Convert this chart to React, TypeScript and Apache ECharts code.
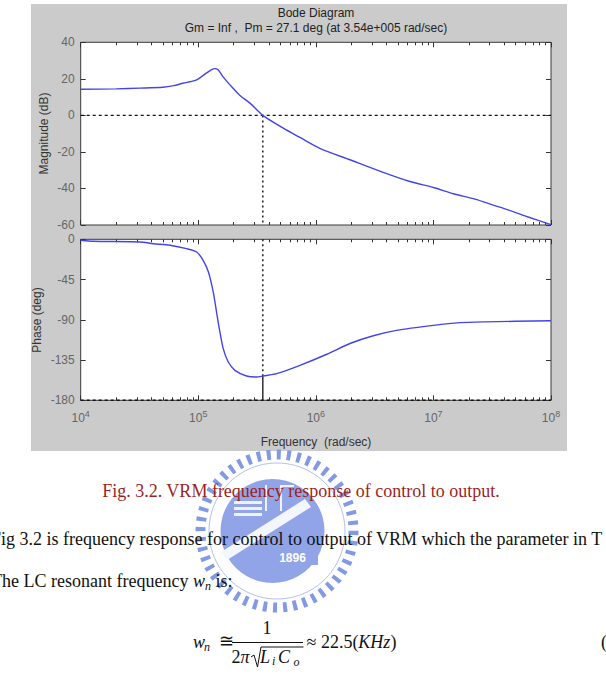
import React, { useEffect, useRef } from 'react';
import * as echarts from 'echarts';

// Bode diagram of the VRM control-to-output transfer function.
const decadeExponents = [4, 5, 6, 7, 8];

// Magnitude response: frequency (rad/s) and gain (dB)
const magFreq = [
  1.0e4, 2.0e4, 3.2e4, 5.0e4, 6.2e4, 7.4e4, 9.3e4, 1.02e5, 1.17e5, 1.29e5, 1.38e5,
  1.48e5, 1.62e5, 1.86e5, 2.24e5, 2.75e5, 3.54e5, 5.28e5, 7.33e5, 1.08e6, 1.95e6,
  3.74e6, 6.3e6, 1.0e7, 1.48e7, 2.19e7, 2.75e7, 4.0e7, 6.3e7, 1.0e8,
];
const magDb = [
  14.3, 14.5, 14.9, 15.4, 16.3, 17.6, 19.0, 20.3, 23.1, 24.9, 25.6,
  24.9, 21.2, 16.7, 11.2, 6.7, 0, -7.0, -12.1, -18.0, -24.3,
  -31.2, -36.2, -39.5, -42.9, -45.6, -47.6, -51.0, -55.5, -59.8,
];

// Phase response: frequency (rad/s) and phase (deg)
const phaseFreq = [
  1.0e4, 1.28e4, 3.19e4, 4.14e4, 5.75e4, 7.94e4, 9.68e4, 1.10e5, 1.22e5, 1.34e5,
  1.43e5, 1.51e5, 1.63e5, 1.80e5, 2.05e5, 2.57e5, 3.14e5, 3.54e5, 4.65e5, 7.33e5,
  1.24e6, 1.95e6, 3.08e6, 4.86e6, 1.0e7, 1.68e7, 2.75e7, 1.0e8,
];
const phaseDeg = [
  -1.1, -2.2, -3.0, -4.9, -6.7, -10.5, -14.2, -23.5, -36.6, -58.9,
  -81.3, -99.9, -122.3, -137.2, -146.5, -152.8, -154.0, -152.9, -150.2, -140.9,
  -128.5, -116.5, -107.8, -101.8, -96.2, -93.2, -92.3, -91.0,
];

// Stability margins reported by margin()
const crossoverFreq = 3.54e5; // rad/s
const phaseMargin = 27.1; // deg

const magRange = { min: -60, max: 40, step: 20 };
const phaseRange = { min: -180, max: 0, step: 45 };

const SANS = '"Liberation Sans", Arial, sans-serif';
const SERIF = '"Liberation Serif", "Times New Roman", serif';
const TICK_GRAY = '#666666';
const AXIS_DARK = '#333333';
const CURVE = '#4444ea';
const LOGO = '#8299e4';
const LOGO_BODY = '#91a4e8';

const lg = (v: number) => Math.log10(v);

// log-spaced minor tick positions (2..9 within each decade)
const minorTicks: number[] = [];
for (let d = 4; d < 8; d++) {
  for (let k = 2; k <= 9; k++) minorTicks.push(d + Math.log10(k));
}

function xAxis(gridIndex: number, position: 'top' | 'bottom', minor: boolean, labels: boolean) {
  return {
    type: 'value',
    gridIndex,
    position,
    min: decadeExponents[0],
    max: decadeExponents[decadeExponents.length - 1],
    interval: 1,
    axisLine: { show: false, onZero: false },
    splitLine: { show: false },
    axisTick: {
      show: true,
      inside: true,
      length: minor ? 3 : 5,
      lineStyle: { color: AXIS_DARK, width: 1 },
      ...(minor ? { customValues: minorTicks } : {}),
    },
    axisLabel: labels
      ? {
          show: true,
          margin: 9,
          showMinLabel: true,
          showMaxLabel: true,
          formatter: (v: number) => `{b|10}{s|${Math.round(v)}}`,
          rich: {
            b: { fontSize: 12, fontFamily: SANS, color: TICK_GRAY },
            s: { fontSize: 9, fontFamily: SANS, color: TICK_GRAY, padding: [0, 0, 9, 0] },
          },
        }
      : { show: false },
  };
}

function yAxis(gridIndex: number, position: 'left' | 'right', range: { min: number; max: number; step: number }) {
  return {
    type: 'value',
    gridIndex,
    position,
    min: range.min,
    max: range.max,
    interval: range.step,
    axisLine: { show: false, onZero: false },
    splitLine: { show: false },
    axisTick: { show: true, inside: true, length: 5, lineStyle: { color: AXIS_DARK, width: 1 } },
    axisLabel:
      position === 'left'
        ? { show: true, margin: 6, fontSize: 12, fontFamily: SANS, color: TICK_GRAY }
        : { show: false },
  };
}

function guide(xi: number, yi: number, data: number[][], type: any, color = '#111111') {
  return {
    type: 'line',
    xAxisIndex: xi,
    yAxisIndex: yi,
    data,
    showSymbol: false,
    silent: true,
    lineStyle: { color, width: 1.4, type },
    z: 3,
  };
}

function logoGraphics() {
  const cx = 277;
  const cy = 531;
  const pale = '#eef2fc';
  return [
    {
      type: 'circle',
      shape: { cx, cy, r: 76.5 },
      style: { fill: 'none', stroke: LOGO, lineWidth: 10, lineDash: [4, 6] },
      z: -1,
      silent: true,
    },
    {
      type: 'circle',
      shape: { cx, cy, r: 68 },
      style: { fill: 'none', stroke: '#b3c0ef', lineWidth: 1 },
      z: -1,
      silent: true,
    },
    {
      type: 'circle',
      shape: { cx: cx - 4.5, cy, r: 52 },
      style: { fill: LOGO_BODY },
      z: -1,
      silent: true,
    },
    // campus buildings
    { type: 'rect', shape: { x: 234, y: 501, width: 28, height: 3 }, style: { fill: pale }, z: -1, silent: true },
    { type: 'rect', shape: { x: 234, y: 507, width: 28, height: 3 }, style: { fill: pale }, z: -1, silent: true },
    { type: 'rect', shape: { x: 234, y: 513, width: 28, height: 3 }, style: { fill: pale }, z: -1, silent: true },
    { type: 'rect', shape: { x: 265, y: 485, width: 2, height: 26 }, style: { fill: pale }, z: -1, silent: true },
    { type: 'rect', shape: { x: 280, y: 485, width: 2, height: 26 }, style: { fill: pale }, z: -1, silent: true },
    { type: 'rect', shape: { x: 280, y: 485, width: 14, height: 2 }, style: { fill: pale }, z: -1, silent: true },
    // diagonal band
    {
      type: 'polygon',
      shape: { points: [[221, 552], [227, 560], [311, 507], [305, 499]] },
      style: { fill: '#f4f6fd' },
      z: -1,
      silent: true,
    },
    {
      type: 'rect',
      shape: { x: 267, y: 551, width: 51, height: 14 },
      style: { fill: LOGO_BODY },
      z: -1,
      silent: true,
    },
    {
      type: 'text',
      x: 292.5,
      y: 558,
      style: {
        text: '1896',
        fill: '#ffffff',
        fontSize: 12,
        fontWeight: 'bold',
        fontFamily: SANS,
        align: 'center',
        verticalAlign: 'middle',
      },
      z: -1,
      silent: true,
    },
  ];
}

function textGraphics() {
  const base = { fontFamily: SERIF, fontSize: 18, verticalAlign: 'middle' };
  const it = { fontFamily: SERIF, fontStyle: 'italic' };
  const t = (x: number, y: number, text: string, extra: any = {}) => ({
    type: 'text',
    x,
    y,
    silent: true,
    z: 10,
    style: { ...base, fill: '#111111', text, ...extra },
  });
  return [
    t(301, 491, 'Fig. 3.2. VRM frequency response of control to output.', { align: 'center', fill: '#9c1f24' }),
    t(-9, 539, 'Fig 3.2 is frequency response for control to output of VRM which the parameter in T'),
    t(-9, 581, 'The LC resonant frequency {w|w}{n|n} is:', {
      rich: {
        w: { ...it, fontSize: 18 },
        n: { ...it, fontSize: 12, padding: [9, 0, 0, 0] },
      },
    }),
    // equation: w_n ≅ 1 / (2π √(L_i C_o)) ≈ 22.5(KHz)
    t(193, 642, 'w', { ...it }),
    t(204, 647, 'n', { ...it, fontSize: 12 }),
    t(218.5, 641, '\u2245'),
    t(267, 628, '1', { align: 'center' }),
    {
      type: 'line',
      shape: { x1: 232, y1: 642.5, x2: 303, y2: 642.5 },
      style: { stroke: '#111111', lineWidth: 1 },
      z: 10,
      silent: true,
    },
    t(231.5, 657, '2{p|\u03c0}', { rich: { p: { ...it, fontSize: 18 } } }),
    {
      type: 'polyline',
      shape: { points: [[251, 657], [254, 655], [257.5, 667], [261, 647], [303.5, 647]] },
      style: { stroke: '#111111', lineWidth: 1, fill: 'none' },
      z: 10,
      silent: true,
    },
    t(260, 657, 'L', { ...it }),
    t(272, 661, 'i', { ...it, fontSize: 12 }),
    t(278, 657, 'C', { ...it }),
    t(293.5, 662, 'o', { ...it, fontSize: 12 }),
    t(306.5, 642, '\u2248 22.5({k|KHz})', { rich: { k: { ...it, fontSize: 18 } } }),
    t(601, 642, '('),
  ];
}

export default function App() {
  const ref = useRef<HTMLDivElement>(null);

  useEffect(() => {
    if (!ref.current) return;
    const chart = echarts.init(ref.current, undefined, { renderer: 'svg' });
    const lwc = lg(crossoverFreq);
    const pmPhase = -180 + phaseMargin;

    chart.setOption({
      animation: false,
      backgroundColor: '#ffffff',
      grid: [
        { left: 80.7, top: 42.3, width: 470.3, height: 182.7, show: true, backgroundColor: '#ffffff', borderColor: '#3a3a3a', borderWidth: 1 },
        { left: 80.7, top: 239.3, width: 470.3, height: 161, show: true, backgroundColor: '#ffffff', borderColor: '#3a3a3a', borderWidth: 1 },
      ],
      xAxis: [
        xAxis(0, 'bottom', false, false),
        xAxis(0, 'bottom', true, false),
        xAxis(0, 'top', false, false),
        xAxis(0, 'top', true, false),
        xAxis(1, 'bottom', false, true),
        xAxis(1, 'bottom', true, false),
        xAxis(1, 'top', false, false),
        xAxis(1, 'top', true, false),
      ],
      yAxis: [
        yAxis(0, 'left', magRange),
        yAxis(0, 'right', magRange),
        yAxis(1, 'left', phaseRange),
        yAxis(1, 'right', phaseRange),
      ],
      series: [
        guide(0, 0, [[4, 0], [8, 0]], [3, 3]),
        guide(0, 0, [[lwc, 0], [lwc, magRange.min]], [2, 3]),
        guide(4, 2, [[4, -180], [8, -180]], [3, 3]),
        guide(4, 2, [[lwc, 0], [lwc, pmPhase]], [2, 3]),
        guide(4, 2, [[lwc, pmPhase], [lwc, -180]], 'solid', '#222222'),
        {
          type: 'line',
          name: 'Magnitude',
          xAxisIndex: 0,
          yAxisIndex: 0,
          data: magFreq.map((f, i) => [lg(f), magDb[i]]),
          showSymbol: false,
          smooth: 0.25,
          silent: true,
          lineStyle: { color: CURVE, width: 1.4 },
          z: 4,
        },
        {
          type: 'line',
          name: 'Phase',
          xAxisIndex: 4,
          yAxisIndex: 2,
          data: phaseFreq.map((f, i) => [lg(f), phaseDeg[i]]),
          showSymbol: false,
          smooth: 0.25,
          silent: true,
          lineStyle: { color: CURVE, width: 1.4 },
          z: 4,
        },
      ],
      graphic: [
        {
          type: 'rect',
          shape: { x: 31, y: 4, width: 536, height: 447 },
          style: { fill: '#cbcbcb' },
          z: -10,
          silent: true,
        },
        {
          type: 'text',
          x: 316,
          y: 12.5,
          style: { text: 'Bode Diagram', fontSize: 12, fontFamily: SANS, fill: '#222222', align: 'center', verticalAlign: 'middle' },
          silent: true,
        },
        {
          type: 'text',
          x: 316,
          y: 28,
          style: {
            text: `Gm = Inf ,  Pm = ${phaseMargin} deg (at 3.54e+005 rad/sec)`,
            fontSize: 12,
            fontFamily: SANS,
            fill: '#222222',
            align: 'center',
            verticalAlign: 'middle',
          },
          silent: true,
        },
        {
          type: 'text',
          x: 44,
          y: 133.5,
          rotation: Math.PI / 2,
          style: { text: 'Magnitude (dB)', fontSize: 12, fontFamily: SANS, fill: '#333333', align: 'center', verticalAlign: 'middle' },
          silent: true,
        },
        {
          type: 'text',
          x: 37,
          y: 320,
          rotation: Math.PI / 2,
          style: { text: 'Phase (deg)', fontSize: 12, fontFamily: SANS, fill: '#333333', align: 'center', verticalAlign: 'middle' },
          silent: true,
        },
        {
          type: 'text',
          x: 316,
          y: 442,
          style: { text: 'Frequency  (rad/sec)', fontSize: 12, fontFamily: SANS, fill: '#333333', align: 'center', verticalAlign: 'middle' },
          silent: true,
        },
        ...logoGraphics(),
        ...textGraphics(),
      ],
    });

    return () => chart.dispose();
  }, []);

  return (
    <div
      ref={ref}
      style={{ position: 'fixed', left: 0, top: 0, width: 606, height: 682, overflow: 'hidden', background: '#ffffff' }}
    />
  );
}
